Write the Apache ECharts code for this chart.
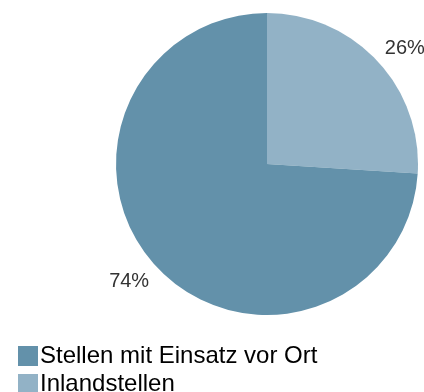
<!DOCTYPE html>
<html>
<head>
<meta charset="utf-8">
<script src="https://cdn.jsdelivr.net/npm/echarts@6/dist/echarts.min.js"></script>
<style>
  html, body { margin: 0; padding: 0; background: #ffffff; }
  #chart { width: 424px; height: 392px; }
</style>
</head>
<body>
<div id="chart"></div>
<script>
// Slice names, shares (%) and colours, in drawing order (clockwise from 12 o'clock)
const categories = ['Inlandstellen', 'Stellen mit Einsatz vor Ort'];
const shares = [26, 74];
const colors = ['#92B2C6', '#6391AA'];
// Legend lists the larger group first
const legendOrder = ['Stellen mit Einsatz vor Ort', 'Inlandstellen'];

const pieData = categories.map((name, i) => ({
  name: name,
  value: shares[i],
  itemStyle: { color: colors[i] }
}));

const center = [267, 164];
const font = 'Arial, "Liberation Sans", Helvetica, sans-serif';
// small nudges so each percentage sits a little off the radial mid-line
const labelNudges = [[3, 11], [-3, -9]];

const chart = echarts.init(document.getElementById('chart'), null, { renderer: 'canvas' });
chart.setOption({
  animation: false,
  backgroundColor: '#ffffff',
  legend: {
    orient: 'vertical',
    left: 13,
    top: 339,
    height: 120,
    itemWidth: 20,
    itemHeight: 20,
    itemGap: 4,
    icon: 'rect',
    data: legendOrder,
    textStyle: { fontFamily: font, fontSize: 24, color: '#000000', padding: [0, 0, 0, -3] }
  },
  series: [
    {
      type: 'pie',
      center: center,
      radius: [0, 151],
      startAngle: 90,
      clockwise: true,
      silent: true,
      label: { show: false },
      labelLine: { show: false },
      data: pieData
    },
    {
      // transparent ring that carries the percentage labels just outside the pie
      type: 'pie',
      center: center,
      radius: [151, 213],
      startAngle: 90,
      clockwise: true,
      silent: true,
      legendHoverLink: false,
      itemStyle: { color: 'rgba(0,0,0,0)' },
      label: {
        show: true,
        position: 'inside',
        formatter: p => p.value + '%',
        fontFamily: font,
        fontSize: 20,
        color: '#333333'
      },
      labelLine: { show: false },
      data: categories.map((name, i) => ({
        name: name + ' ',
        value: shares[i],
        label: { offset: labelNudges[i] }
      }))
    }
  ]
});
</script>
</body>
</html>
